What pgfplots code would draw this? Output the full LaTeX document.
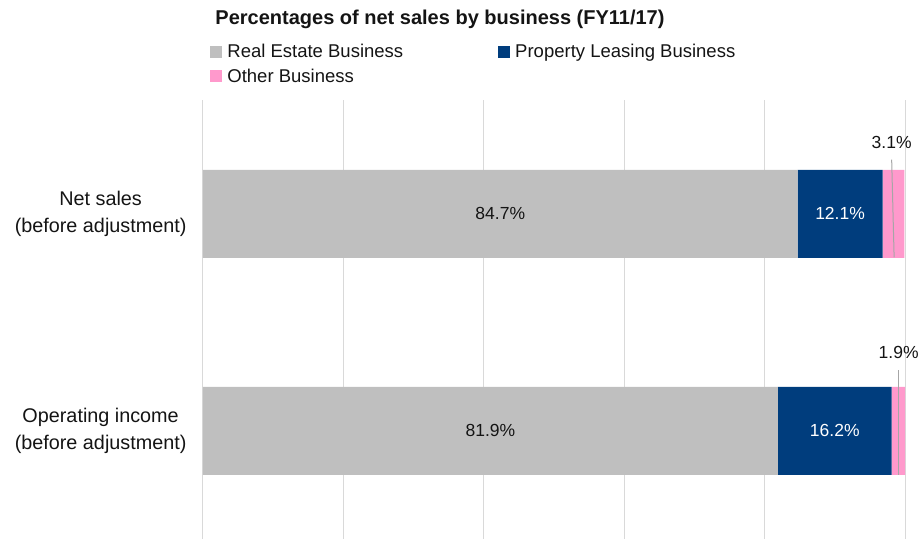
\documentclass[border=0pt]{standalone}
\usepackage{fontspec}
\setmainfont{Liberation Sans}
\usepackage{pgfplots}
\pgfplotsset{compat=1.18}
\definecolor{reGray}{RGB}{191,191,191}
\definecolor{plNavy}{RGB}{0,61,125}
\definecolor{obPink}{RGB}{255,153,204}
\definecolor{gridGray}{RGB}{217,217,217}
\definecolor{leader}{RGB}{166,166,166}
\definecolor{txt}{RGB}{20,20,20}
\begin{document}
\begin{tikzpicture}
\useasboundingbox (-203pt,0pt) rectangle (717pt,539pt);
\begin{axis}[
  at={(0pt,0pt)}, anchor=south west,
  scale only axis, width=702pt, height=439pt,
  xbar stacked, bar width=88pt,
  xmin=0, xmax=100, ymin=-0.525, ymax=1.498, y dir=reverse,
  xtick={0,20,...,100}, xticklabels={}, xmajorgrids,
  grid style={gridGray, line width=1pt},
  major tick length=0pt,
  ytick={0,1},
  yticklabels={{Net sales\\(before adjustment)},{Operating income\\(before adjustment)}},
  yticklabel style={align=center, text=txt, font=\fontsize{19.8}{27}\selectfont, xshift=-13pt},
  axis line style={draw=none},
  clip=false,
  legend columns=2,
  legend cell align=left,
  legend style={draw=none, fill=none, at={(0.006,1.137)}, anchor=north west,
    font=\fontsize{18.5}{22}\selectfont, text=txt,
    /tikz/every even column/.style={column sep=93pt},
    /tikz/every odd column/.style={column sep=3pt},
    row sep=6pt},
  legend image code/.code={\fill[#1] (0pt,-6pt) rectangle (12pt,6pt);},
]
\addplot[fill=reGray, draw=none] coordinates {(84.7,0) (81.9,1)};
\addplot[fill=plNavy, draw=none] coordinates {(12.1,0) (16.2,1)};
\addplot[fill=obPink, draw=none] coordinates {(3.1,0) (1.9,1)};
\legend{Real Estate Business, Property Leasing Business, Other Business}
\coordinate (a1) at (axis cs:42.35,0);
\coordinate (a2) at (axis cs:90.75,0);
\coordinate (b1) at (axis cs:40.95,1);
\coordinate (b2) at (axis cs:90,1);
\coordinate (la) at (axis cs:98.1,-0.25);
\coordinate (lb) at (axis cs:98.45,0.2);
\coordinate (ta) at (axis cs:98.1,-0.33);
\coordinate (lc) at (axis cs:99.05,0.72);
\coordinate (ld) at (axis cs:99.05,1.203);
\coordinate (tb) at (axis cs:99.1,0.64);
\end{axis}
\node[text=txt, font=\fontsize{17.5}{20}\selectfont] at (a1) {84.7\%};
\node[text=white, font=\fontsize{17.5}{20}\selectfont] at (a2) {12.1\%};
\node[text=txt, font=\fontsize{17.5}{20}\selectfont] at (b1) {81.9\%};
\node[text=white, font=\fontsize{17.5}{20}\selectfont] at (b2) {16.2\%};
\draw[leader, line width=1pt] (la) -- (lb);
\node[text=txt, font=\fontsize{17.5}{20}\selectfont] at (ta) {3.1\%};
\draw[leader, line width=1pt] (lc) -- (ld);
\node[text=txt, font=\fontsize{17.5}{20}\selectfont] at (tb) {1.9\%};
\node[text=txt, font=\bfseries\fontsize{20}{24}\selectfont] at (237pt,520pt) {Percentages of net sales by business (FY11/17)};
\end{tikzpicture}
\end{document}
